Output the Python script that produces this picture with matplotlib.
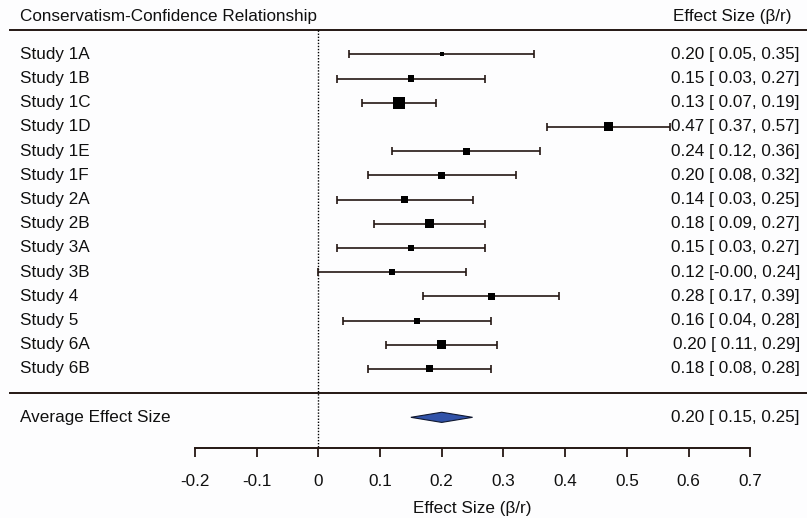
import numpy as np
import matplotlib
matplotlib.use("Agg")
import matplotlib.pyplot as plt
import matplotlib.transforms as mtransforms

plt.rcParams['font.family'] = ['Liberation Sans', 'DejaVu Sans']

# data
studies = ["Study 1A", "Study 1B", "Study 1C", "Study 1D", "Study 1E", "Study 1F", "Study 2A",
           "Study 2B", "Study 3A", "Study 3B", "Study 4", "Study 5", "Study 6A", "Study 6B"]
est = [0.20, 0.15, 0.13, 0.47, 0.24, 0.20, 0.14, 0.18, 0.15, 0.12, 0.28, 0.16, 0.20, 0.18]
ci_lo = [0.05, 0.03, 0.07, 0.37, 0.12, 0.08, 0.03, 0.09, 0.03, -0.00, 0.17, 0.04, 0.11, 0.08]
ci_hi = [0.35, 0.27, 0.19, 0.57, 0.36, 0.32, 0.25, 0.27, 0.27, 0.24, 0.39, 0.28, 0.29, 0.28]
weights = [3.9, 5.9, 11.8, 8.8, 6.9, 6.9, 6.9, 8.8, 5.9, 5.9, 6.9, 5.9, 8.8, 6.9]  # % weight (from square size)
avg_est, avg_lo, avg_hi = 0.20, 0.15, 0.25
tick_vals = [-0.2, -0.1, 0, 0.1, 0.2, 0.3, 0.4, 0.5, 0.6, 0.7]
tick_labels = ["-0.2", "-0.1", "0", "0.1", "0.2", "0.3", "0.4", "0.5", "0.6", "0.7"]

line_col = '#241713'
txt_col = '#101010'
fs = 12.3

fig = plt.figure(figsize=(8.07, 5.18), dpi=100)
fig.patch.set_facecolor('#fdfdfe')
ax = fig.add_axes([0, 0, 1, 1])
ax.set_facecolor('#fdfdfe')

# layout in row units (row 0 = first study)
n = len(studies)
rows = np.arange(n)
top_row = -1.0
sep_row = n
avg_row = n + 1
axis_row = n + 2.26
ax.set_xlim(-0.5159, 0.792)
ax.set_ylim(19.16, -2.244)

trans = mtransforms.blended_transform_factory(ax.transAxes, ax.transData)

# header + frame lines
ax.text(0.0248, -1.58, "Conservatism-Confidence Relationship", transform=trans,
        ha='left', va='center', fontsize=fs, color=txt_col)
ax.text(0.981, -1.58, "Effect Size (\u03b2/r)", transform=trans,
        ha='right', va='center', fontsize=fs, color=txt_col)
ax.axhline(top_row, xmin=0.012, xmax=1, color=line_col, lw=1.4)
ax.axhline(sep_row, xmin=0.012, xmax=1, color=line_col, lw=1.4)

# reference line at zero
ax.vlines(0, top_row, axis_row, color='black', lw=1.0, linestyles=(0, (1, 1.2)))

# study CIs and squares
ax.errorbar(est, rows, xerr=[np.subtract(est, ci_lo), np.subtract(ci_hi, est)],
            fmt='none', ecolor=line_col, elinewidth=1.2, capsize=2.8, capthick=1.2)
side_pt = np.array(weights) * 1.02 * 0.72
ax.scatter(est, rows, s=side_pt ** 2, marker='s', color='black', linewidths=0, zorder=3)

for i, name in enumerate(studies):
    ax.text(0.0248, rows[i], name, transform=trans, ha='left', va='center',
            fontsize=fs, color=txt_col)
    ax.text(0.9913, rows[i], "%.2f [%5.2f, %.2f]" % (est[i], ci_lo[i], ci_hi[i]),
            transform=trans, ha='right', va='center', fontsize=fs, color=txt_col)

# pooled estimate diamond
h = 0.21
ax.fill([avg_lo, avg_est, avg_hi, avg_est], [avg_row, avg_row - h, avg_row, avg_row + h],
        facecolor='#3152a8', edgecolor='#101830', lw=0.8, zorder=3)
ax.text(0.0248, avg_row, "Average Effect Size", transform=trans, ha='left', va='center',
        fontsize=fs, color=txt_col)
ax.text(0.9913, avg_row, "%.2f [%5.2f, %.2f]" % (avg_est, avg_lo, avg_hi), transform=trans,
        ha='right', va='center', fontsize=fs, color=txt_col)

# x axis
for s in ['top', 'left', 'right']:
    ax.spines[s].set_visible(False)
ax.spines['bottom'].set_position(('data', axis_row))
ax.spines['bottom'].set_bounds(tick_vals[0], tick_vals[-1])
ax.spines['bottom'].set_color(line_col)
ax.spines['bottom'].set_linewidth(1.4)
ax.set_xticks(tick_vals)
ax.set_xticklabels(tick_labels)
ax.tick_params(axis='x', direction='out', length=6.5, width=1.3, color=line_col,
               labelsize=fs, labelcolor=txt_col, pad=12)
ax.set_yticks([])
ax.text((tick_vals[0] + tick_vals[-1]) / 2, 18.78, "Effect Size (\u03b2/r)", ha='center',
        va='center', fontsize=fs, color=txt_col)

fig.savefig("out.png", dpi=100, facecolor=fig.get_facecolor())
